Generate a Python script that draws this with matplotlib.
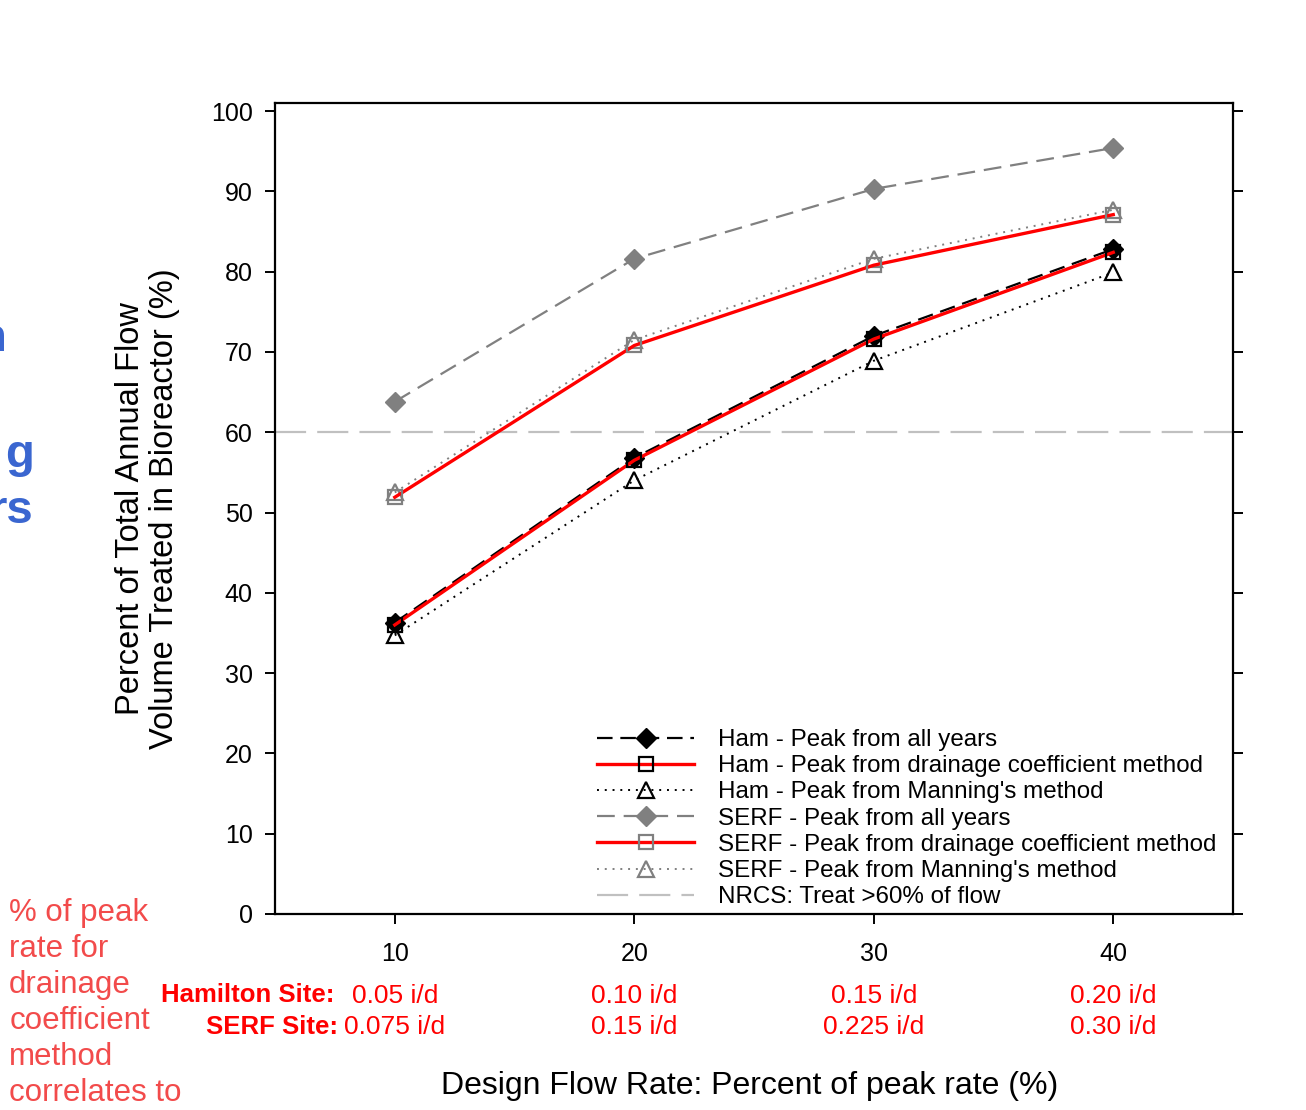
import matplotlib
matplotlib.use('Agg')
import matplotlib.pyplot as plt

plt.rcParams['font.family'] = ['Liberation Sans', 'DejaVu Sans']

# design flow rate, % of peak rate
design_rate = [10, 20, 30, 40]

# percent of total annual flow treated (%)
ham_all_years = [36.3, 56.8, 72.0, 82.8]
ham_drainage = [36.0, 56.5, 71.6, 82.4]
ham_manning = [34.7, 54.0, 68.9, 79.9]
serf_all_years = [63.8, 81.6, 90.3, 95.4]
serf_drainage = [51.9, 70.8, 80.8, 87.1]
serf_manning = [52.5, 71.5, 81.6, 87.7]
nrcs_target = 60

# drainage coefficient equivalents under each tick
ham_rates = ['0.05 i/d', '0.10 i/d', '0.15 i/d', '0.20 i/d']
serf_rates = ['0.075 i/d', '0.15 i/d', '0.225 i/d', '0.30 i/d']

side_note = ['% of peak', 'rate for', 'drainage', 'coefficient', 'method', 'correlates to']

fig = plt.figure(figsize=(13.06, 11.10), dpi=100)
ax = fig.add_axes([0.2106, 0.1766, 0.7335, 0.7306])

red = '#ff0000'
grey = '#808080'

ax.plot(design_rate, ham_all_years, color='black', ls=(0, (7, 3.5)), lw=1.6,
        marker='D', ms=10, mfc='black', mec='black', label='Ham - Peak from all years', zorder=3)
ax.plot(design_rate, ham_manning, color='black', ls=(0, (1, 3)), lw=1.4,
        marker='^', ms=12, mfc='none', mec='black', mew=1.6,
        label="Ham - Peak from Manning's method", zorder=3)
ax.plot(design_rate, serf_all_years, color=grey, ls=(0, (8, 4)), lw=1.6,
        marker='D', ms=10, mfc=grey, mec=grey, label='SERF - Peak from all years', zorder=3)
ax.plot(design_rate, serf_manning, color=grey, ls=(0, (1, 3)), lw=1.4,
        marker='^', ms=12, mfc='none', mec=grey, mew=1.6,
        label="SERF - Peak from Manning's method", zorder=3)
ax.plot(design_rate, ham_drainage, color=red, lw=2.4,
        marker='s', ms=10, mfc='none', mec='black', mew=1.6,
        label='Ham - Peak from drainage coefficient method', zorder=4)
ax.plot(design_rate, serf_drainage, color=red, lw=2.4,
        marker='s', ms=10, mfc='none', mec=grey, mew=1.6,
        label='SERF - Peak from drainage coefficient method', zorder=4)
ax.axhline(nrcs_target, color='#c0c0c0', ls=(0, (14, 5)), lw=1.6,
           label='NRCS: Treat >60% of flow', zorder=1)

ax.set_xlim(5, 45)
ax.set_ylim(0, 101)
ax.set_xticks(design_rate)
ax.set_yticks(range(0, 101, 10))
ax.tick_params(axis='both', direction='out', length=7, width=1.4, labelsize=18, pad=9)
ax.tick_params(axis='x', pad=13)
ax.tick_params(axis='y', right=True)
for sp in ax.spines.values():
    sp.set_linewidth(1.6)

ax.set_ylabel('Percent of Total Annual Flow\nVolume Treated in Bioreactor (%)', fontsize=23.5,
              linespacing=1.1, va='center')
ax.yaxis.set_label_coords(-0.133, 0.5)
ax.set_xlabel('Design Flow Rate: Percent of peak rate (%)', fontsize=23, va='center')
ax.xaxis.set_label_coords(0.495, -0.212)

# legend in the original order
handles, labels = ax.get_legend_handles_labels()
order = [0, 4, 1, 2, 5, 3, 6]
ax.legend([handles[i] for i in order], [labels[i] for i in order], loc='lower right',
          bbox_to_anchor=(1.0005, -0.014), frameon=False, fontsize=17.4, handlelength=4.0,
          handletextpad=1.0, labelspacing=0.175, borderpad=0.2)

# red rate annotations below the x ticks
for x, h, s in zip(design_rate, ham_rates, serf_rates):
    ax.text(x, -0.101, h, transform=ax.get_xaxis_transform(), color=red,
            fontsize=19, ha='center', va='center')
    ax.text(x, -0.139, s, transform=ax.get_xaxis_transform(), color=red,
            fontsize=19, ha='center', va='center')
ax.text(0.062, -0.1, 'Hamilton Site:', transform=ax.transAxes, color=red, fontsize=18.5,
        fontweight='bold', ha='right', va='center')
ax.text(0.066, -0.139, 'SERF Site:', transform=ax.transAxes, color=red, fontsize=18.5,
        fontweight='bold', ha='right', va='center')

# slide text around the figure
for i, line in enumerate(side_note):
    fig.text(0.007, 1 - (913 + 36 * i) / 1110, line, color='#f24b4b', fontsize=22.5,
             ha='left', va='center')
blue = '#3a66d0'
fig.text(0.005, 0.695, 'n', color=blue, fontsize=34, fontweight='bold', ha='right', va='center')
fig.text(0.026, 0.59, 'g', color=blue, fontsize=34, fontweight='bold', ha='right', va='center')
fig.text(0.026, 0.54, 'rs', color=blue, fontsize=34, fontweight='bold', ha='right', va='center')

fig.savefig('out.png', dpi=100, facecolor='white')
